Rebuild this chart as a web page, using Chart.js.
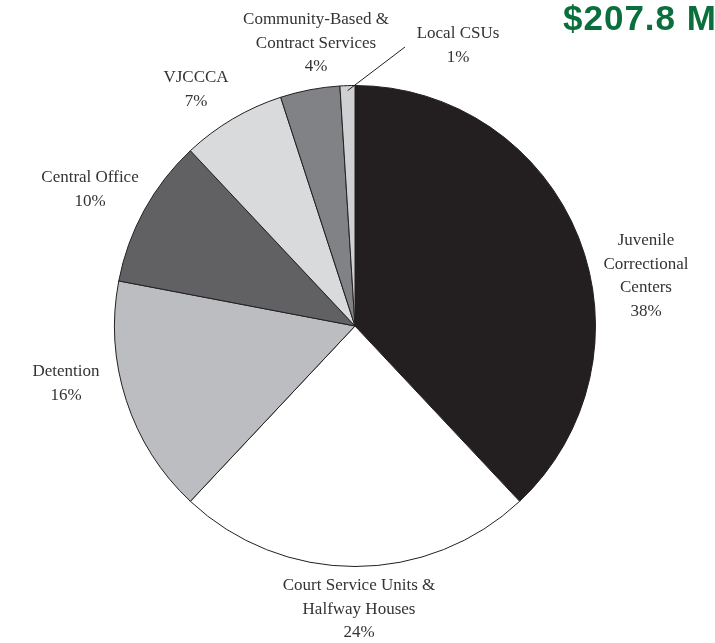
<!DOCTYPE html>
<html>
<head>
<meta charset="utf-8">
<script src="https://cdn.jsdelivr.net/npm/chart.js@4"></script>
<style>
  html, body { margin: 0; padding: 0; background: #ffffff; }
  #wrap { width: 715px; height: 643px; position: relative; }
</style>
</head>
<body>
<div id="wrap"><canvas id="pieChart" width="715" height="643"></canvas></div>
<script>
const categories = [
  ["Juvenile", "Correctional", "Centers"],
  ["Court Service Units &", "Halfway Houses"],
  ["Detention"],
  ["Central Office"],
  ["VJCCCA"],
  ["Community-Based &", "Contract Services"],
  ["Local CSUs"],
];
const shares = [38, 24, 16, 10, 7, 4, 1];
const sliceColors = ["#231f20", "#ffffff", "#bcbdc0", "#616163", "#d9dadb", "#808285", "#cfd0d2"];
const totalLabel = "$207.8 M";

// where each label block is centred (x, y of first line)
const labelPos = [
  [646, 241],
  [359, 586],
  [66, 372],
  [90, 178],
  [196, 78],
  [316, 20],
  [458, 34],
];

const labelPlugin = {
  id: "outsideLabels",
  afterDraw(chart) {
    const ctx = chart.ctx;
    const arcs = chart.getDatasetMeta(0).data;
    ctx.save();
    ctx.font = "17px 'Liberation Serif', 'DejaVu Serif', serif";
    ctx.fillStyle = "#333333";
    ctx.textAlign = "center";
    ctx.textBaseline = "middle";
    const lineH = 23.5;
    categories.forEach((lines, i) => {
      const [x, y] = labelPos[i];
      const all = lines.concat([shares[i] + "%"]);
      all.forEach((t, j) => ctx.fillText(t, x, y + j * lineH));
    });

    // leader line for the tiny Local CSUs slice
    const last = arcs[arcs.length - 1];
    const mid = (last.startAngle + last.endAngle) / 2;
    const r = last.outerRadius - 5;
    ctx.strokeStyle = "#231f20";
    ctx.lineWidth = 1;
    ctx.beginPath();
    ctx.moveTo(405, 47);
    ctx.lineTo(last.x + Math.cos(mid) * r, last.y + Math.sin(mid) * r);
    ctx.stroke();

    ctx.font = "bold 35px 'Liberation Sans', Arial, sans-serif";
    ctx.letterSpacing = "1px";
    ctx.fillStyle = "#0a6f3c";
    ctx.textAlign = "left";
    ctx.textBaseline = "alphabetic";
    ctx.fillText(totalLabel, 563, 30);
    ctx.restore();
  },
};

new Chart(document.getElementById("pieChart"), {
  type: "pie",
  data: {
    labels: categories.map((c) => c.join(" ")),
    datasets: [
      {
        data: shares,
        backgroundColor: sliceColors,
        borderColor: "#231f20",
        borderWidth: 1,
      },
    ],
  },
  options: {
    responsive: false,
    animation: false,
    layout: { padding: { left: 114, right: 119, top: 85, bottom: 76 } },
    plugins: {
      legend: { display: false },
      tooltip: { enabled: false },
    },
  },
  plugins: [labelPlugin],
});
</script>
</body>
</html>
